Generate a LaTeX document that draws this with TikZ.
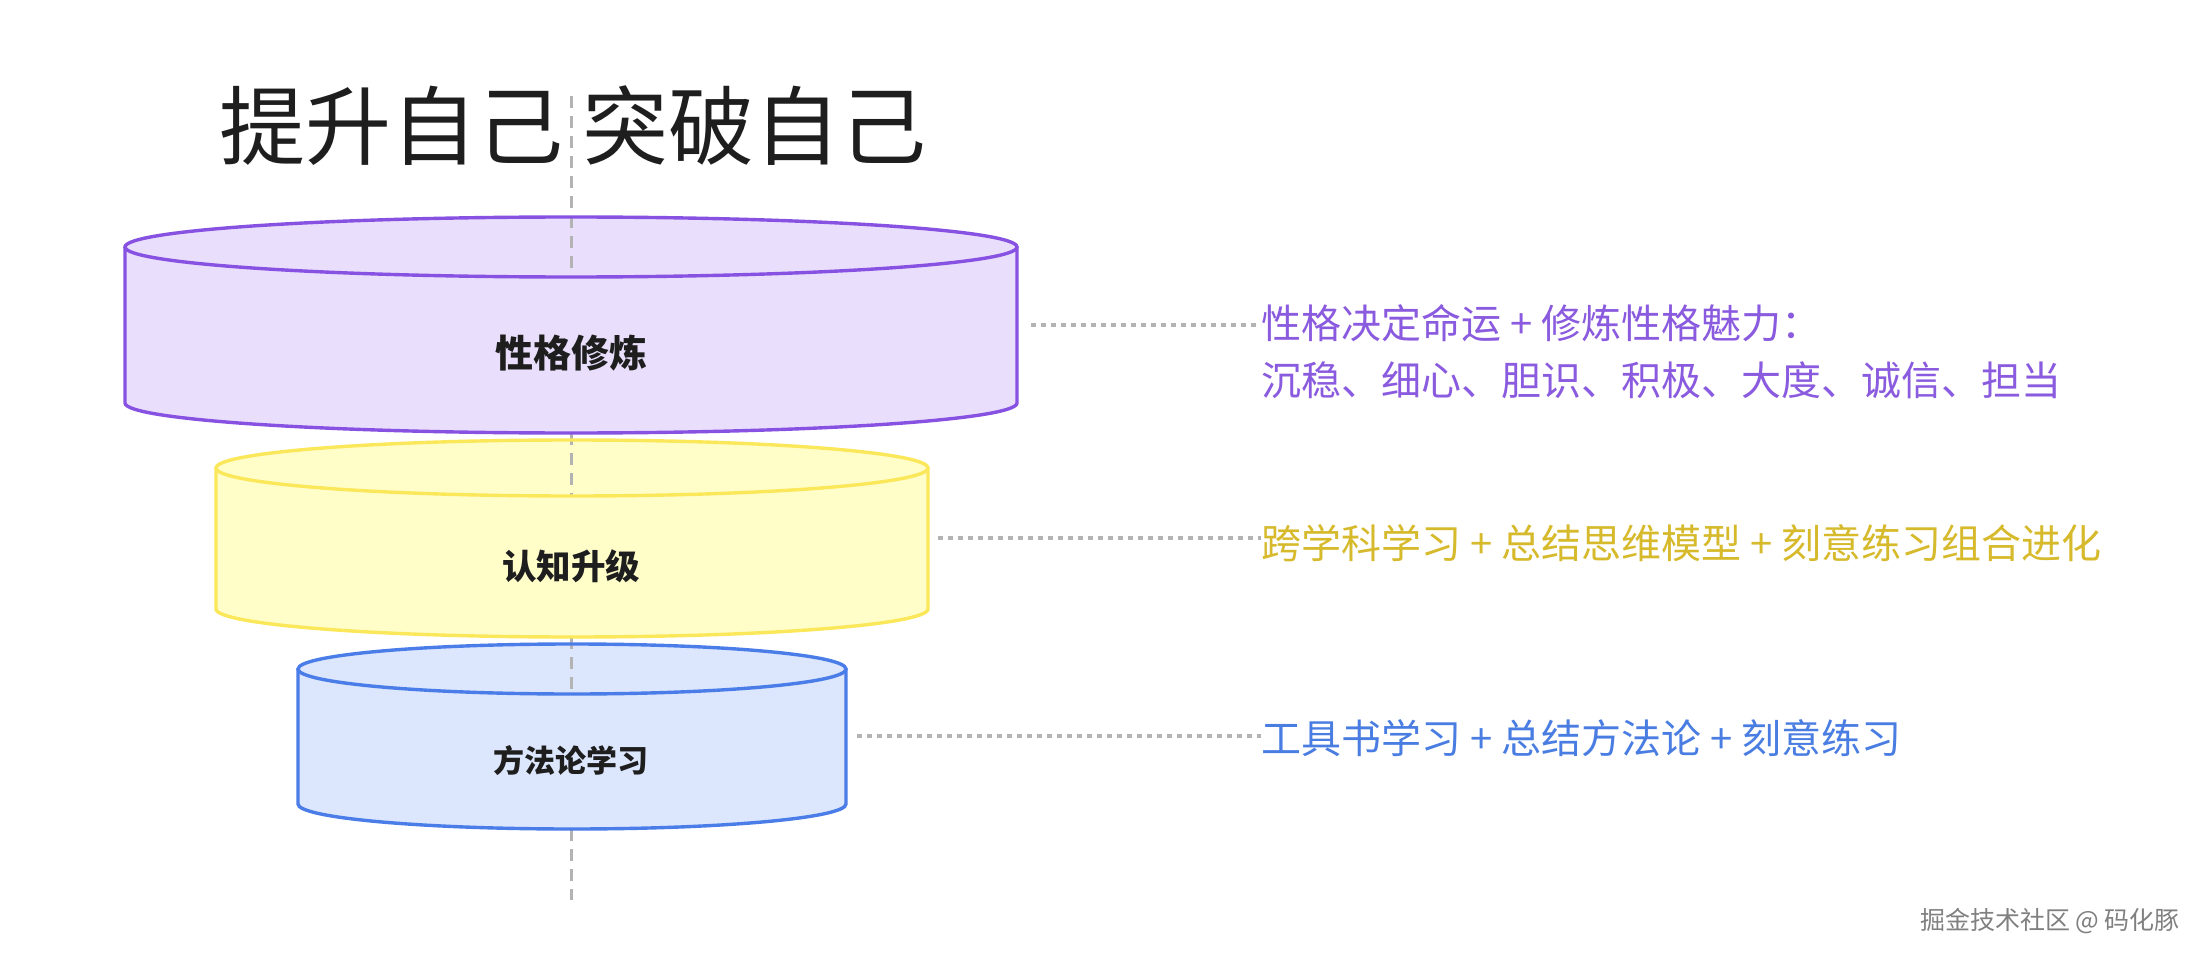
\documentclass[tikz,border=0pt]{standalone}
\usepackage{fontspec}
\newfontfamily\cjk{Noto Sans CJK SC}
\definecolor{pstroke}{HTML}{8752E2}
\definecolor{pfill}{HTML}{E9DFFC}
\definecolor{ystroke}{HTML}{FBE85A}
\definecolor{yfill}{HTML}{FFFDC8}
\definecolor{bstroke}{HTML}{4A7DE8}
\definecolor{bfill}{HTML}{DCE6FD}
\definecolor{ptext}{HTML}{8A5ADF}
\definecolor{ytext}{HTML}{D6BA2C}
\definecolor{btext}{HTML}{4A7DE2}
\definecolor{gline}{HTML}{B3B3B3}
\definecolor{darktext}{HTML}{1E1E1E}
\tikzset{
  cylbody/.style={line width=3.4pt},
  axisline/.style={draw=gline, line width=3pt, dash pattern=on 12pt off 8pt},
  linkline/.style={draw=gline, line width=4pt, dash pattern=on 5pt off 5pt},
  cyllabel/.style={font=\cjk\bfseries, text=darktext, inner sep=0pt},
  sidelabel/.style={font=\cjk\fontsize{40}{57}\selectfont, anchor=west, inner sep=0pt, align=left},
}
\begin{document}
\begin{tikzpicture}[x=1pt,y=-1pt]
\useasboundingbox[fill=white] (0,0) rectangle (2204,960);

% title
\node[font=\cjk\fontsize{86}{90}\selectfont, text=darktext, inner sep=0pt] (title) at (573,126) {提升自己 突破自己};

% cylinder 1 (purple)
\coordinate (c1t) at (571,247);
\coordinate (c1b) at (571,403);
\fill[pfill] (125,247) -- (125,403) arc[start angle=180,end angle=0,x radius=446,y radius=30] -- (1017,247) arc[start angle=0,end angle=-180,x radius=446,y radius=30] -- cycle;
% cylinder 2 (yellow)
\coordinate (c2t) at (572,468);
\coordinate (c2b) at (572,609);
\fill[yfill] (216,468) -- (216,609) arc[start angle=180,end angle=0,x radius=356,y radius=28] -- (928,468) arc[start angle=0,end angle=-180,x radius=356,y radius=28] -- cycle;
% cylinder 3 (blue)
\coordinate (c3t) at (572,669);
\coordinate (c3b) at (572,804);
\fill[bfill] (298,669) -- (298,804) arc[start angle=180,end angle=0,x radius=274,y radius=25] -- (846,669) arc[start angle=0,end angle=-180,x radius=274,y radius=25] -- cycle;

% central axis (visible above each top face)
\coordinate (a0) at (571,96);
\coordinate (a1) at (571,277);
\coordinate (a2) at (571,433);
\coordinate (a3) at (571,496);
\coordinate (a4) at (571,637);
\coordinate (a5) at (571,694);
\coordinate (a6) at (571,829);
\coordinate (a7) at (571,900);
\draw[axisline] (a0) -- (a1);
\draw[axisline] (a2) -- (a3);
\draw[axisline] (a4) -- (a5);
\draw[axisline] (a6) -- (a7);

% outlines
\draw[cylbody, draw=pstroke] (125,247) -- (125,403) arc[start angle=180,end angle=0,x radius=446,y radius=30] -- (1017,247);
\draw[cylbody, draw=pstroke] (c1t) ellipse[x radius=446,y radius=30];
\draw[cylbody, draw=ystroke] (216,468) -- (216,609) arc[start angle=180,end angle=0,x radius=356,y radius=28] -- (928,468);
\draw[cylbody, draw=ystroke] (c2t) ellipse[x radius=356,y radius=28];
\draw[cylbody, draw=bstroke] (298,669) -- (298,804) arc[start angle=180,end angle=0,x radius=274,y radius=25] -- (846,669);
\draw[cylbody, draw=bstroke] (c3t) ellipse[x radius=274,y radius=25];

% cylinder labels
\node[cyllabel, font=\cjk\bfseries\fontsize{38}{40}\selectfont] (l1) at (571,353) {性格修炼};
\node[cyllabel, font=\cjk\bfseries\fontsize{34.5}{36}\selectfont] (l2) at (571,566) {认知升级};
\node[cyllabel, font=\cjk\bfseries\fontsize{31}{33}\selectfont] (l3) at (571,761) {方法论学习};

% link start points
\coordinate (s1) at (1031,325);
\coordinate (s2) at (938,538);
\coordinate (s3) at (857,736);

% side texts
\node[sidelabel, text=ptext, anchor=north west] (t1) at (1261,304) {性格决定命运 + 修炼性格魅力：\\沉稳、细心、胆识、积极、大度、诚信、担当};
\node[sidelabel, text=ytext] (t2) at (1261,543) {跨学科学习 + 总结思维模型 + 刻意练习组合进化};
\node[sidelabel, text=btext] (t3) at (1261,738) {工具书学习 + 总结方法论 + 刻意练习};

\coordinate (e1) at (1261,325);
\coordinate (e2) at (1261,538);
\coordinate (e3) at (1261,736);
\draw[linkline] (s1) -- (e1);
\draw[linkline] (s2) -- (e2);
\draw[linkline] (s3) -- (e3);

% watermark
\node[font=\cjk\fontsize{25}{27}\selectfont, text=black!50, inner sep=0pt] (wm) at (2050,921) {掘金技术社区 @ 码化豚};
\end{tikzpicture}
\end{document}
